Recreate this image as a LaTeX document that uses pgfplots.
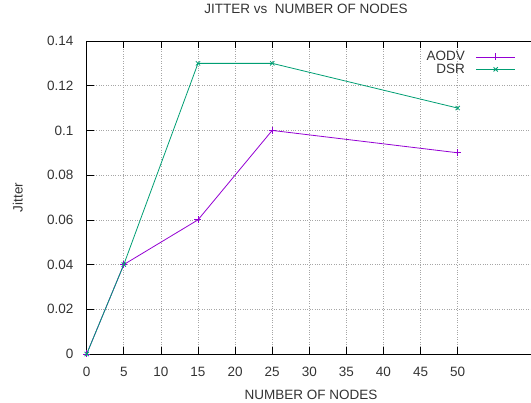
\documentclass[border=0pt]{standalone}
\usepackage{fontspec}
\setmainfont{Liberation Sans}
\usepackage{pgfplots}
\pgfplotsset{compat=1.18}
\definecolor{aodv}{HTML}{9400D3}
\definecolor{dsr}{HTML}{009E73}
\begin{document}
\fontsize{13.5}{16}\selectfont
\begin{tikzpicture}
\useasboundingbox (-86.7pt,-49pt) rectangle (444.3pt,354pt);
\begin{axis}[
  scale only axis,
  width=452.6pt, height=313pt,
  xmin=0, xmax=61, ymin=0, ymax=0.14,
  axis x line*=box, axis y line*=left,
  axis line style={black, line width=0.8pt},
  xtick={0,5,...,50},
  ytick={0,0.02,0.04,0.06,0.08,0.1,0.12,0.14},
  yticklabels={0,0.02,0.04,0.06,0.08,0.1,0.12,0.14},
  tick align=inside,
  major tick length=7pt,
  tick style={black, line width=0.6pt},
  grid=major,
  grid style={gray!70, dotted, line width=0.6pt},
  /pgf/number format/assume math mode=true,
  ticklabel style={font=\fontsize{13.5}{16}\selectfont, text=black!80},
  xticklabel style={anchor=center, yshift=-18pt},
  yticklabel style={anchor=east, xshift=-8.5pt},
  title={JITTER vs\ \ NUMBER OF NODES},
  title style={anchor=center, at={(axis description cs:0.5,1)}, yshift=26pt, xshift=-7pt, text=black!80},
  xlabel={NUMBER OF NODES},
  xlabel style={anchor=center, at={(axis description cs:0.5,0)}, yshift=-41pt, xshift=-2pt, text=black!80},
  ylabel={Jitter},
  ylabel style={anchor=center, at={(axis description cs:-0.1525,0.5)}, text=black!80},
  legend cell align=right,
  legend plot pos=right,
  legend style={draw=none, fill=none, at={(axis description cs:0.948,1)}, anchor=north east, yshift=-8pt, inner sep=0pt, row sep=-3pt, column sep=9pt, font=\fontsize{13.5}{16}\selectfont},
  legend image code/.code={\draw[mark repeat=2,mark phase=2,#1] plot coordinates {(0pt,0pt) (19.5pt,0pt) (39pt,0pt)};},
]
\addlegendimage{draw=aodv, line width=0.8pt, mark=+, mark size=3.5pt, mark options={line width=0.8pt, draw=aodv}}
\addlegendentry{\textcolor{black!80}{AODV}}
\addlegendimage{draw=dsr, line width=0.8pt, mark=x, mark size=3pt, mark options={line width=0.8pt, draw=dsr}}
\addlegendentry{\textcolor{black!80}{DSR}}
\addplot[color=aodv, line width=0.8pt, mark=+, mark size=3.5pt, mark options={line width=0.8pt}, forget plot] coordinates {
(0,0) (5,0.04) (15,0.06) (25,0.10) (50,0.09)
};
\addplot[color=dsr, line width=0.8pt, mark=x, mark size=3pt, mark options={line width=0.8pt}, forget plot] coordinates {
(0,0) (5,0.04) (15,0.13) (25,0.13) (50,0.11)
};
\end{axis}
\end{tikzpicture}
\end{document}
